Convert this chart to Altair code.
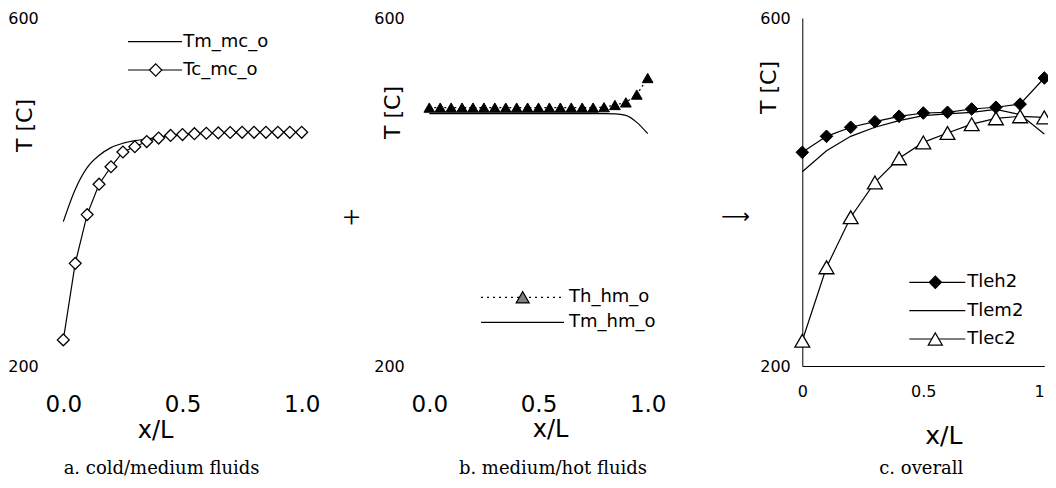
import altair as alt
import pandas as pd

# ---------------- data ----------------
X_A = [0.0, 0.05, 0.1, 0.15, 0.2, 0.25, 0.3, 0.35, 0.4, 0.45, 0.5,
       0.55, 0.6, 0.65, 0.7, 0.75, 0.8, 0.85, 0.9, 0.95, 1.0]
TM_MC_O = [366, 403, 428, 442, 451, 456, 459, 461, 463, 465, 466,
           467, 467.5, 468, 468.3, 468.5, 468.5, 468.5, 468.5, 468.5, 468.5]
TC_MC_O = [230, 318, 374, 409, 429, 446, 452, 458, 462, 465, 466,
           467, 467.5, 468, 468.4, 468.6, 468.6, 468.6, 468.6, 468.6, 468.6]

X_B = [0.0, 0.05, 0.1, 0.15, 0.2, 0.25, 0.3, 0.35, 0.4, 0.45, 0.5,
       0.55, 0.6, 0.65, 0.7, 0.75, 0.8, 0.85, 0.9, 0.95, 1.0]
TH_HM_O = [497, 497, 497, 497, 497, 497, 497, 497, 497, 497, 497,
           497, 497, 497, 497, 497, 497.5, 500, 503, 512, 531]
TM_HM_O = [490, 490, 490, 490, 490, 490, 490, 490, 490, 490, 490,
           490, 490, 490, 490, 490, 490, 489.8, 488, 480, 467]

X_C = [0.0, 0.1, 0.2, 0.3, 0.4, 0.5, 0.6, 0.7, 0.8, 0.9, 1.0]
TLEH2 = [445.6, 464, 474.4, 480.8, 487, 490.8, 491.6, 495.4, 497.4, 501, 531]
TLEM2 = [423.3, 447.5, 464, 474.4, 482, 487.7, 489.7, 491.6, 495, 489, 466.7]
TLEC2 = [229, 313.4, 371, 411, 438.7, 457, 467.8, 478, 484.7, 487, 485.8]

Y_TICKS = [200, 600]
X_TICKS = [0.0, 0.5, 1.0]

LEG_A = ["Tm_mc_o", "Tc_mc_o"]
LEG_B = ["Th_hm_o", "Tm_hm_o"]
LEG_C = ["Tleh2", "Tlem2", "Tlec2"]
CAPTIONS = ["a. cold/medium fluids", "b. medium/hot fluids", "c. overall"]

# ---------------- styling ----------------
SANS = "DejaVu Sans"
SERIF = "DejaVu Serif"
H = 348
WA, WB, WC = 238.4, 218.4, 242
GAP1, GAP2 = 126.6, 153.3
CAP_Y = 456


def series(xs, ys):
    return pd.DataFrame({"x": xs, "T": ys})


def one(label):
    return pd.DataFrame({"label": [label]})


def xscale():
    return alt.Scale(domain=[0, 1], nice=False, zero=False)


def yscale():
    return alt.Scale(domain=[200, 600], nice=False, zero=False)


def y_axis(lp, tx, ty, domain):
    return alt.Axis(values=Y_TICKS, format="d", domain=domain, domainColor="black",
                    domainWidth=1, ticks=False, grid=False, labelFont=SANS,
                    labelFontSize=16, labelColor="black", labelPadding=lp,
                    title="T [C]", titleFont=SANS, titleFontSize=22,
                    titleFontWeight="normal", titleColor="black", titleX=tx,
                    titleY=ty, titleAngle=270, titleAlign="center",
                    titleBaseline="middle")


def x_axis(fmt, fs, lp, tx, ty, tfs, domain, align="center"):
    return alt.Axis(values=X_TICKS, format=fmt, domain=domain, domainColor="black",
                    domainWidth=1, ticks=False, grid=False, labelFont=SANS,
                    labelFontSize=fs, labelColor="black", labelPadding=lp,
                    labelBaseline="middle", labelAlign=align,
                    labelFlush=False, labelOverlap=False,
                    title="x/L", titleFont=SANS, titleFontSize=tfs,
                    titleFontWeight="normal", titleColor="black", titleX=tx,
                    titleY=ty, titleAlign="center", titleBaseline="middle")


def enc(xax, yax):
    return dict(x=alt.X("x:Q", scale=xscale(), axis=xax),
                y=alt.Y("T:Q", scale=yscale(), axis=yax))


def leg_text(label, x, y):
    return alt.Chart(one(label)).mark_text(
        font=SANS, fontSize=18, align="left", baseline="middle", color="black"
    ).encode(x=alt.value(x), y=alt.value(y), text="label:N")


def leg_rule(x1, x2, y, dash=None):
    kw = dict(color="black", strokeWidth=1.2)
    if dash:
        kw["strokeDash"] = dash
    return alt.Chart(one("r")).mark_rule(**kw).encode(
        x=alt.value(x1), x2=alt.value(x2), y=alt.value(y))


def leg_point(x, y, shape, size, fill):
    return alt.Chart(one("p")).mark_point(
        shape=shape, size=size, filled=True, fill=fill, stroke="black",
        strokeWidth=1.2, opacity=1).encode(x=alt.value(x), y=alt.value(y))


def caption(text, x):
    return alt.Chart(one(text)).mark_text(
        font=SERIF, fontSize=18, align="center", baseline="alphabetic", color="black"
    ).encode(x=alt.value(x), y=alt.value(CAP_Y), text="label:N")


# ---------------- panel a ----------------
xa = x_axis(".1f", 23, 38, 91.7, 64, 24, False)
ya = y_axis(25, -39.3, 107, False)
pa = alt.layer(
    alt.Chart(series(X_A, TM_MC_O)).mark_line(color="black", strokeWidth=1.2,
                                               interpolate="monotone").encode(**enc(xa, ya)),
    alt.Chart(series(X_A, TC_MC_O)).mark_line(color="black", strokeWidth=1.2).encode(**enc(xa, ya)),
    alt.Chart(series(X_A, TC_MC_O)).mark_point(shape="diamond", size=140, filled=True,
                                               fill="white", stroke="black",
                                               strokeWidth=1.3, opacity=1).encode(**enc(xa, ya)),
    leg_rule(64.7, 118.7, 23.7),
    leg_text(LEG_A[0], 120, 23.7),
    leg_rule(64.7, 118.7, 52),
    leg_point(92.4, 52, "diamond", 150, "white"),
    leg_text(LEG_A[1], 120, 52),
    caption(CAPTIONS[0], 98.3),
).properties(width=WA, height=H)

# ---------------- spacer with "+" ----------------
sp1 = alt.Chart(one("+")).mark_text(
    font="Liberation Serif", fontSize=32, align="center", baseline="middle", color="black"
).encode(x=alt.value(49.3), y=alt.value(200), text="label:N").properties(width=GAP1, height=H)

# ---------------- panel b ----------------
xb = x_axis(".1f", 23, 38, 120.7, 63, 24, False)
yb = y_axis(25, -37.3, 94, False)
pb = alt.layer(
    alt.Chart(series(X_B, TM_HM_O)).mark_line(color="black", strokeWidth=1.2,
                                               interpolate="monotone").encode(**enc(xb, yb)),
    alt.Chart(series(X_B, TH_HM_O)).mark_line(color="black", strokeWidth=1.2,
                                               strokeDash=[2, 3]).encode(**enc(xb, yb)),
    alt.Chart(series(X_B, TH_HM_O)).mark_point(shape="triangle-up", size=115, filled=True,
                                               fill="black", stroke="black",
                                               strokeWidth=1, opacity=1).encode(**enc(xb, yb)),
    leg_rule(51.7, 134.7, 279.3, dash=[2, 4]),
    leg_point(93.4, 279.3, "triangle-up", 170, "#808080"),
    leg_text(LEG_B[0], 139.7, 279.3),
    leg_rule(51.7, 134.7, 304.3),
    leg_text(LEG_B[1], 139.7, 304.3),
    caption(CAPTIONS[1], 123.7),
).properties(width=WB, height=H)

# ---------------- spacer with arrow ----------------
sp2 = alt.Chart(one("⟶")).mark_text(
    font=SANS, fontSize=20, align="center", baseline="middle", color="black"
).encode(x=alt.value(87.3), y=alt.value(199.3), text="label:N").properties(width=GAP2, height=H)

# ---------------- panel c ----------------
xc = x_axis("~g", 16, 25, 141, 69.7, 25, True,
            align={"condition": {"test": "datum.value >= 1", "value": "right"},
                   "value": "center"})
yc = y_axis(12, -34, 69, True)
pc = alt.layer(
    alt.Chart(series(X_C, TLEM2)).mark_line(color="black", strokeWidth=1.2).encode(**enc(xc, yc)),
    alt.Chart(series(X_C, TLEC2)).mark_line(color="black", strokeWidth=1.2).encode(**enc(xc, yc)),
    alt.Chart(series(X_C, TLEH2)).mark_line(color="black", strokeWidth=1.2).encode(**enc(xc, yc)),
    alt.Chart(series(X_C, TLEC2)).mark_point(shape="triangle-up", size=220, filled=True,
                                             fill="white", stroke="black",
                                             strokeWidth=1.3, opacity=1).encode(**enc(xc, yc)),
    alt.Chart(series(X_C, TLEH2)).mark_point(shape="diamond", size=160, filled=True,
                                             fill="black", stroke="black",
                                             strokeWidth=1, opacity=1).encode(**enc(xc, yc)),
    leg_rule(107, 163, 264.3),
    leg_point(133, 264.3, "diamond", 150, "black"),
    leg_text(LEG_C[0], 165, 264.3),
    leg_rule(107, 163, 292.7),
    leg_text(LEG_C[1], 165, 292.7),
    leg_rule(107, 163, 321),
    leg_point(133, 321, "triangle-up", 200, "white"),
    leg_text(LEG_C[2], 165, 321),
    caption(CAPTIONS[2], 119),
).properties(width=WC, height=H)

PAD_L, PAD_T = 55.3, 10
SVG_W, SVG_H = 1040, 466
chart = alt.hconcat(pa, sp1, pb, sp2, pc, spacing=0, bounds="flush").properties(
    autosize=alt.AutoSizeParams(type="none"),
    padding={"left": PAD_L, "top": PAD_T, "right": SVG_W - PAD_L, "bottom": SVG_H - PAD_T},
).configure_view(stroke=None)

chart.save("out.html", embed_options={"renderer": "svg", "actions": False})
